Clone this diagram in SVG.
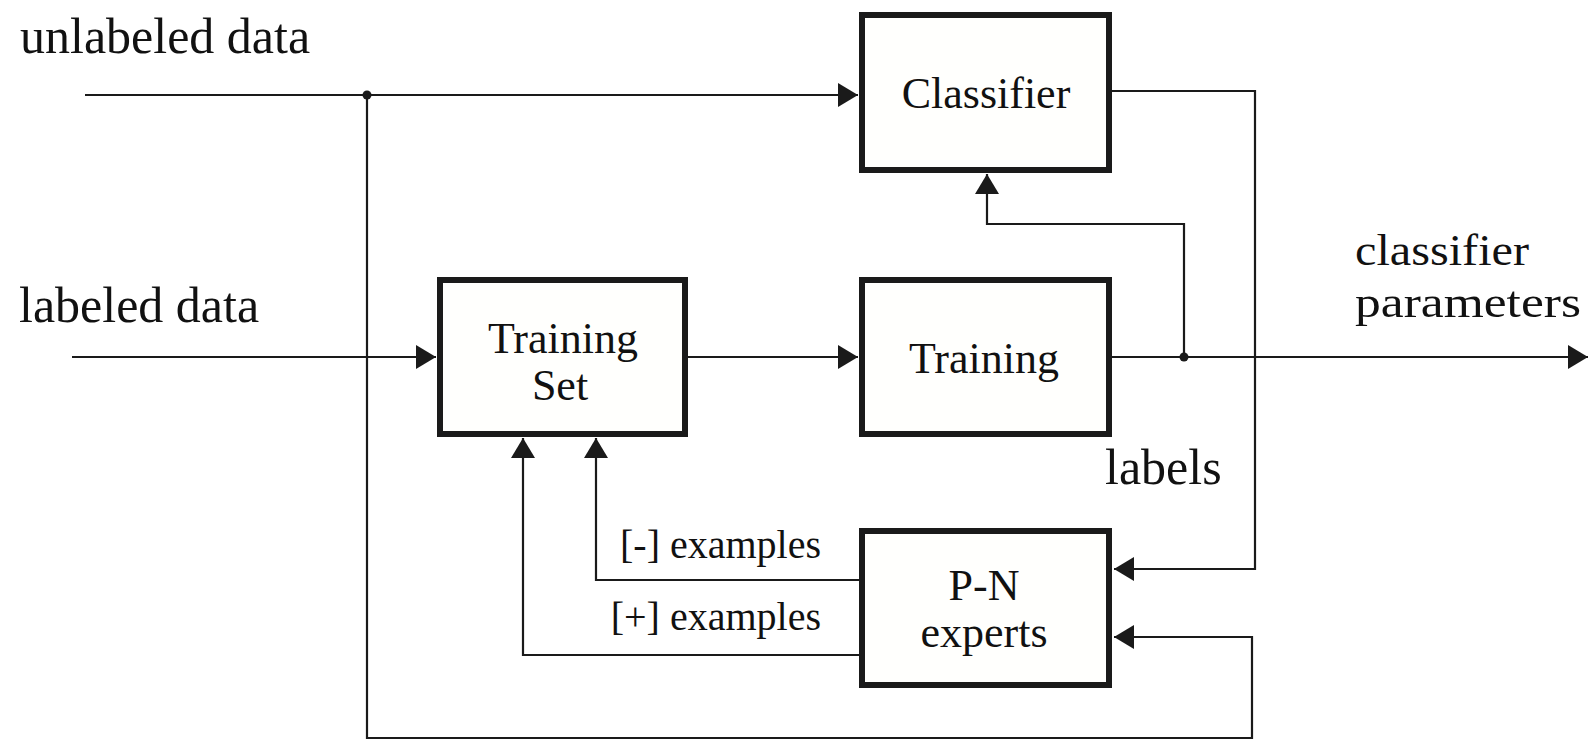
<svg xmlns="http://www.w3.org/2000/svg" width="1596" height="754" viewBox="0 0 1596 754">
<style>
.box{fill:#fffffd;stroke:#1a1a1a;stroke-width:6}
.ln{fill:none;stroke:#1a1a1a;stroke-width:2.2}
.t{font-family:"Liberation Serif","Times New Roman",serif;fill:#111}
.big{font-size:50px}
.cp{font-size:45px}
.node{font-size:44px;text-anchor:middle}
.ex{font-size:40px;text-anchor:end}
</style>
<defs>
<marker id="ah" viewBox="0 0 20 24" refX="20" refY="12" markerWidth="20" markerHeight="24" markerUnits="userSpaceOnUse" orient="auto">
<path d="M0,0 L20,12 L0,24 Z" fill="#1a1a1a"/>
</marker>
</defs>
<rect width="1596" height="754" fill="#ffffff"/>
<g id="connectors">
<path class="ln" d="M85,95 H858" marker-end="url(#ah)"/>
<path class="ln" d="M367,95 V738 H1252 V637 H1114" marker-end="url(#ah)"/>
<path class="ln" d="M1112,91 H1255 V569 H1114" marker-end="url(#ah)"/>
<path class="ln" d="M72,357 H436" marker-end="url(#ah)"/>
<path class="ln" d="M688,357 H858" marker-end="url(#ah)"/>
<path class="ln" d="M1112,357 H1588" marker-end="url(#ah)"/>
<path class="ln" d="M1184,357 V224 H987 V174" marker-end="url(#ah)"/>
<path class="ln" d="M859,580 H596 V438" marker-end="url(#ah)"/>
<path class="ln" d="M859,655 H523 V438" marker-end="url(#ah)"/>
<circle cx="367" cy="95" r="4.5" fill="#1a1a1a"/>
<circle cx="1184" cy="357" r="4.5" fill="#1a1a1a"/>
</g>
<g id="classifier">
<rect class="box" x="862" y="15" width="247" height="155"/>
<text class="t node" x="986" y="108">Classifier</text>
</g>
<g id="training-set">
<rect class="box" x="440" y="280" width="245" height="154"/>
<text class="t node" x="563" y="353">Training</text>
<text class="t node" x="560" y="400">Set</text>
</g>
<g id="training">
<rect class="box" x="862" y="280" width="247" height="154"/>
<text class="t node" x="984" y="373">Training</text>
</g>
<g id="pn-experts">
<rect class="box" x="862" y="531" width="247" height="154"/>
<text class="t node" x="984" y="600">P-N</text>
<text class="t node" x="984" y="647">experts</text>
</g>
<g id="labels">
<text class="t big" x="20" y="53">unlabeled data</text>
<text class="t big" x="19" y="322">labeled data</text>
<text class="t cp" x="1355" y="265" textLength="174" lengthAdjust="spacingAndGlyphs">classifier</text>
<text class="t cp" x="1355" y="317" textLength="226" lengthAdjust="spacingAndGlyphs">parameters</text>
<text class="t big" x="1105" y="484">labels</text>
<text class="t ex" x="821" y="558">[-] examples</text>
<text class="t ex" x="821" y="630">[+] examples</text>
</g>
</svg>
